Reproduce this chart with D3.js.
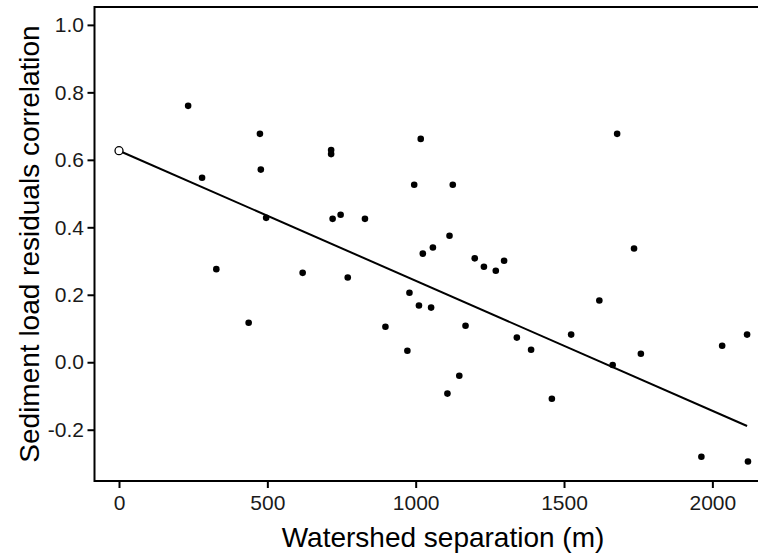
<!DOCTYPE html>
<html>
<head>
<meta charset="utf-8">
<script src="https://cdn.jsdelivr.net/npm/d3@7"></script>
<style>
  html, body { margin: 0; padding: 0; background: #fff; }
  svg { display: block; font-family: "Liberation Sans", Arial, sans-serif; }
</style>
</head>
<body>
<div id="chart"></div>
<script>
/*
 * data
 */
const separation = [233, 280, 328, 437, 475, 478, 496, 619, 715, 715, 720, 747, 771, 829, 898,
  972, 979, 995, 1011, 1017, 1024, 1052, 1058, 1107, 1114, 1125, 1147, 1168, 1199, 1230,
  1270, 1298, 1341, 1389, 1459, 1524, 1619, 1664, 1679, 1736, 1759, 1963, 2033, 2117, 2120]
const correlation = [0.760, 0.547, 0.276, 0.117, 0.677, 0.571, 0.428, 0.265, 0.629, 0.617, 0.425, 0.437, 0.251, 0.425, 0.105,
  0.034, 0.206, 0.526, 0.168, 0.662, 0.322, 0.162, 0.340, -0.093, 0.375, 0.526, -0.040, 0.108, 0.308, 0.283,
  0.271, 0.301, 0.073, 0.037, -0.108, 0.082, 0.183, -0.008, 0.677, 0.337, 0.025, -0.280, 0.049, 0.082, -0.294]

// open point at zero separation
const zeroSeparation = [0]
const zeroCorrelation = [0.627]

// fitted line ends
const fitX = [0, 2117]
const fitY = [0.627, -0.189]

const xTicks = [0, 500, 1000, 1500, 2000]
const yTicks = [-0.2, 0, 0.2, 0.4, 0.6, 0.8, 1.0]

/*
 * svg
 */
const w = 758
const h = 559
const panelLeft = 94.5
const panelRight = 772
const panelTop = 7
const panelBottom = 481

const svg = d3.select('#chart')
  .append('svg')
  .attr('width', w)
  .attr('height', h)

const x = d3.scaleLinear().domain([-82.6, 2201]).range([panelLeft, panelRight])
const y = d3.scaleLinear().domain([-0.352, 1.053]).range([panelBottom, panelTop])

// axes
const xAxis = svg.append('g')
  .attr('transform', `translate(0,${panelBottom})`)
  .call(d3.axisBottom(x).tickValues(xTicks).tickSize(7).tickPadding(7).tickFormat(d3.format('d')))

const yAxis = svg.append('g')
  .attr('transform', `translate(${panelLeft},0)`)
  .call(d3.axisLeft(y).tickValues(yTicks).tickSize(7).tickPadding(3.5).tickFormat(d3.format('.1f')))

;[xAxis, yAxis].forEach(a => {
  a.select('.domain').remove()
  a.selectAll('line').attr('stroke', '#000').attr('stroke-width', 2)
  a.selectAll('text').attr('fill', '#1a1a1a').style('font-size', '21px')
})
// minus sign as plain hyphen like the original
yAxis.selectAll('text').text(d => d3.format('.1f')(d).replace('−', '-'))

// panel frame
svg.append('rect')
  .attr('x', panelLeft)
  .attr('y', panelTop)
  .attr('width', panelRight - panelLeft)
  .attr('height', panelBottom - panelTop)
  .attr('fill', 'none')
  .attr('stroke', '#000')
  .attr('stroke-width', 2)

// fitted line
const fit = fitX.map((d, i) => [d, fitY[i]])
svg.append('path')
  .datum(fit)
  .attr('d', d3.line().x(d => x(d[0])).y(d => y(d[1])))
  .attr('fill', 'none')
  .attr('stroke', '#000')
  .attr('stroke-width', 2)

// points
const points = separation.map((d, i) => ({ sep: d, cor: correlation[i] }))
svg.append('g')
  .selectAll('circle')
  .data(points)
  .enter()
  .append('circle')
  .attr('cx', d => x(d.sep))
  .attr('cy', d => y(d.cor))
  .attr('r', 3.3)
  .attr('fill', '#000')

svg.append('g')
  .selectAll('circle')
  .data(zeroSeparation.map((d, i) => ({ sep: d, cor: zeroCorrelation[i] })))
  .enter()
  .append('circle')
  .attr('cx', d => x(d.sep))
  .attr('cy', d => y(d.cor))
  .attr('r', 4)
  .attr('fill', '#fff')
  .attr('stroke', '#000')
  .attr('stroke-width', 1.3)

// titles
svg.append('text')
  .attr('x', 443)
  .attr('y', 547)
  .attr('text-anchor', 'middle')
  .style('font-size', '28px')
  .attr('fill', '#000')
  .text('Watershed separation (m)')

svg.append('text')
  .attr('transform', `translate(39,${(panelTop + panelBottom) / 2}) rotate(-90)`)
  .attr('text-anchor', 'middle')
  .style('font-size', '28px')
  .attr('fill', '#000')
  .text('Sediment load residuals correlation')
</script>
</body>
</html>
